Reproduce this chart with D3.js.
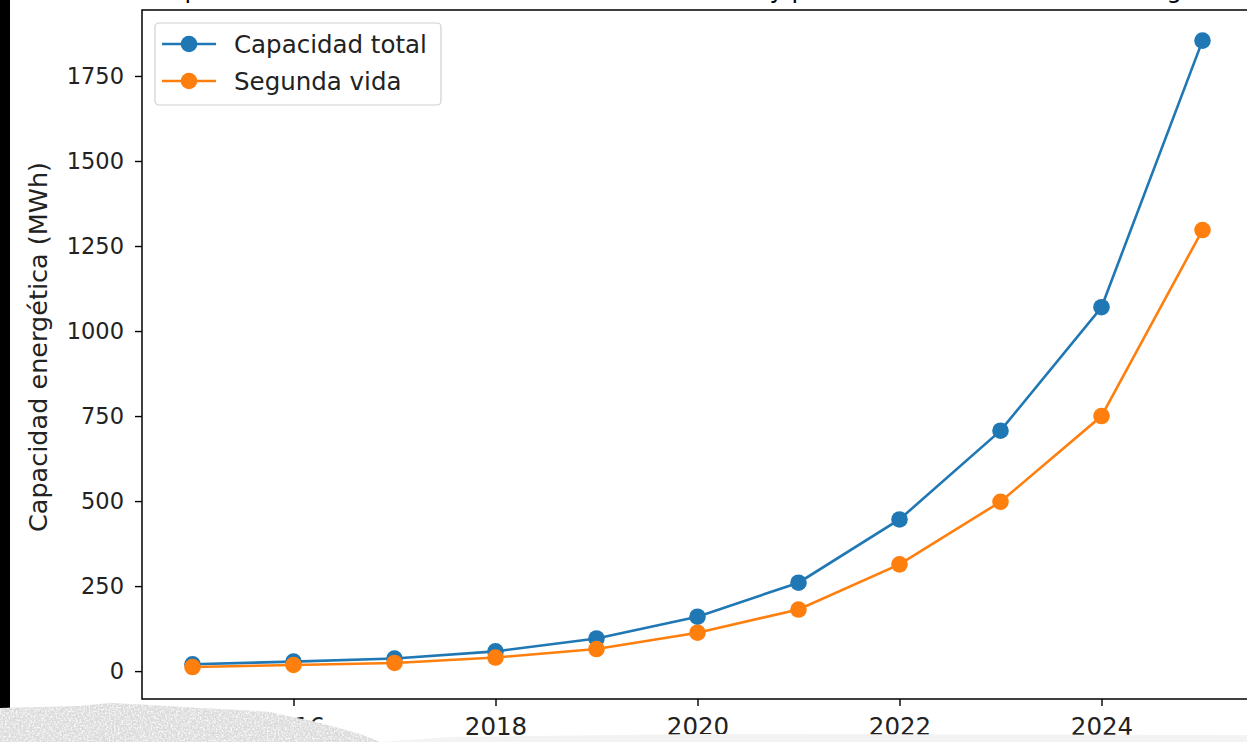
<!DOCTYPE html>
<html><head><meta charset="utf-8">
<script src="https://cdn.jsdelivr.net/npm/d3@7"></script>
<style>body{margin:0;background:#fff;}svg{display:block;font-family:"DejaVu Sans",sans-serif;}</style>
</head><body><svg id="c" width="1247" height="742"></svg>
<script>
const years = [2015,2016,2017,2018,2019,2020,2021,2022,2023,2024,2025];
const capacidadTotal = [20,28,37,58,96,160,260,446,707,1070,1854];
const segundaVida = [12,18,24,40,65,113,181,314,498,750,1297];
const seriesNames = ["Capacidad total","Segunda vida"];
const seriesColors = ["#1f77b4","#ff7f0e"];
const yTicks = [0,250,500,750,1000,1250,1500,1750];
const xTicks = [2016,2018,2020,2022,2024];
const titleText = "Capacidad total de baterías de VE retiradas en UE y potencial de acumulación energética";
const yLabel = "Capacidad energética (MWh)";

const svg = d3.select("#c");
const defs = svg.append("defs");
const x = d3.scaleLinear().domain([2014.5,2025.5]).range([142,1253]);
const y = d3.scaleLinear().domain([-82,1944]).range([699,10]);

// title (cut off at the top edge, as in the reference)
svg.append("text").attr("x",697).attr("y",-2).attr("text-anchor","middle")
  .attr("font-size",24.3).attr("fill","#000").text(titleText);

defs.append("clipPath").attr("id","clipA")
  .append("rect").attr("x",142).attr("y",10).attr("width",1111).attr("height",689);

// axes
const gx = svg.append("g").attr("transform","translate(0,699)")
  .call(d3.axisBottom(x).tickValues(xTicks).tickFormat(d3.format("d")).tickSize(7).tickPadding(6));
const gy = svg.append("g").attr("transform","translate(142,0)")
  .call(d3.axisLeft(y).tickValues(yTicks).tickFormat(d3.format("d")).tickSize(7).tickPadding(11));
[gx,gy].forEach(g=>{
  g.select(".domain").remove();
  g.selectAll(".tick line").attr("stroke","#000").attr("stroke-width",1.4);
  g.selectAll(".tick text").attr("fill","#222").attr("font-family","DejaVu Sans");
});
gx.selectAll(".tick text").attr("font-size",24.5).attr("dy","0.95em");
gy.selectAll(".tick text").attr("font-size",22.5);

// spines
svg.append("rect").attr("x",142).attr("y",10).attr("width",1111).attr("height",689)
  .attr("fill","none").attr("stroke","#000").attr("stroke-width",1.5);

// y label
svg.append("text").attr("transform","translate(47,347) rotate(-90)").attr("text-anchor","middle")
  .attr("font-size",25.5).attr("fill","#222").text(yLabel);

// series
const data = [capacidadTotal, segundaVida];
const line = d3.line().x((d,i)=>x(years[i])).y(d=>y(d));
const plot = svg.append("g").attr("clip-path","url(#clipA)");
data.forEach((vals,k)=>{
  plot.append("path").datum(vals).attr("d",line).attr("fill","none")
    .attr("stroke",seriesColors[k]).attr("stroke-width",2.6);
  plot.selectAll(null).data(vals).enter().append("circle")
    .attr("cx",(d,i)=>x(years[i])).attr("cy",d=>y(d)).attr("r",8.3).attr("fill",seriesColors[k]);
});

// legend
const lg = svg.append("g");
lg.append("rect").attr("x",155).attr("y",23).attr("width",286).attr("height",82).attr("rx",4)
  .attr("fill","#fff").attr("fill-opacity",0.8).attr("stroke","#d0d0d0").attr("stroke-width",1.2);
seriesNames.forEach((n,k)=>{
  const yy = 44 + k*37;
  lg.append("line").attr("x1",162).attr("x2",216).attr("y1",yy).attr("y2",yy)
    .attr("stroke",seriesColors[k]).attr("stroke-width",2.6);
  lg.append("circle").attr("cx",189).attr("cy",yy).attr("r",8.3).attr("fill",seriesColors[k]);
  lg.append("text").attr("x",234).attr("y",yy).attr("dy","0.36em").attr("font-size",24.5)
    .attr("fill","#222").text(n);
});

// black strip on the left
svg.append("rect").attr("x",0).attr("y",0).attr("width",10).attr("height",712).attr("fill","#000");

// torn paper overlay at the bottom
const f = defs.append("filter").attr("id","noise").attr("x",0).attr("y",0).attr("width","100%").attr("height","100%");
f.append("feTurbulence").attr("type","fractalNoise").attr("baseFrequency",0.55).attr("numOctaves",3).attr("seed",3).attr("result","n");
f.append("feColorMatrix").attr("in","n").attr("type","matrix")
  .attr("values","0 0 0 0 1  0 0 0 0 1  0 0 0 0 1  2.2 0 0 0 -0.85").attr("result","g");
f.append("feComposite").attr("in","g").attr("in2","SourceGraphic").attr("operator","in");
const tornEdge = "M0,742 L380,742 L360,734 L335,727 L312,721 L292,717 L270,712 L240,710 L200,708 L150,705 L110,703 L80,706 L40,707 L0,708 Z";
svg.append("path").attr("d","M0,742 L1247,742 L1247,735 L700,734 L450,737 L380,742 Z").attr("fill","#f3f3f3");
svg.append("path").attr("d",tornEdge).attr("fill","#dadada");
svg.append("path").attr("d",tornEdge).attr("fill","#fff").attr("filter","url(#noise)");
</script></body></html>
